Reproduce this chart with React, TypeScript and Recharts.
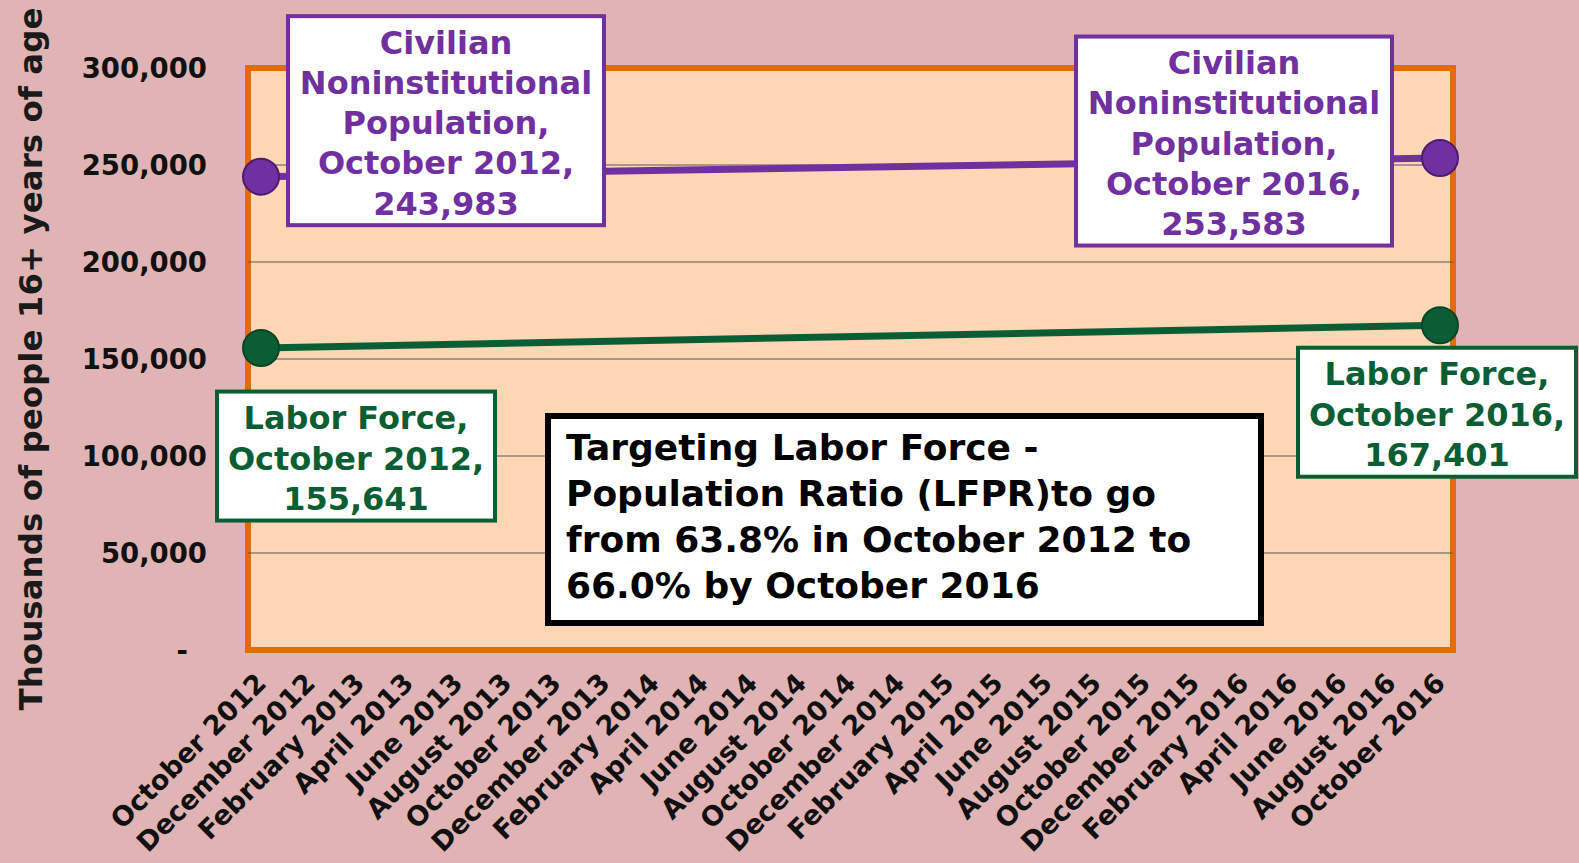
import React from 'react';
import { LineChart, Line, XAxis, YAxis, CartesianGrid, LabelList } from 'recharts';

const FONT = '"DejaVu Sans", Verdana, sans-serif';

// monthly categories, October 2012 .. October 2016
const months = [
  'October 2012', 'November 2012', 'December 2012',
  'January 2013', 'February 2013', 'March 2013', 'April 2013', 'May 2013', 'June 2013',
  'July 2013', 'August 2013', 'September 2013', 'October 2013', 'November 2013', 'December 2013',
  'January 2014', 'February 2014', 'March 2014', 'April 2014', 'May 2014', 'June 2014',
  'July 2014', 'August 2014', 'September 2014', 'October 2014', 'November 2014', 'December 2014',
  'January 2015', 'February 2015', 'March 2015', 'April 2015', 'May 2015', 'June 2015',
  'July 2015', 'August 2015', 'September 2015', 'October 2015', 'November 2015', 'December 2015',
  'January 2016', 'February 2016', 'March 2016', 'April 2016', 'May 2016', 'June 2016',
  'July 2016', 'August 2016', 'September 2016', 'October 2016',
];

// only the two end points are known
const pointMonths = ['October 2012', 'October 2016'];
const civilianValues = [243983, 253583];
const laborValues = [155641, 167401];

const yTicks = [0, 50000, 100000, 150000, 200000, 250000, 300000];
const gridValues = [50000, 100000, 150000, 200000, 250000];

const yTitle = 'Thousands of people 16+ years of age';
const noteLines = [
  'Targeting Labor Force -',
  'Population Ratio (LFPR)to go',
  'from 63.8% in October 2012 to',
  '66.0% by October 2016',
];

const data = months.map((m) => {
  const i = pointMonths.indexOf(m);
  return {
    month: m,
    civilian: i >= 0 ? civilianValues[i] : null,
    labor: i >= 0 ? laborValues[i] : null,
  };
});

const PURPLE = '#7030a0';
const GREEN = '#0b5e34';

const makeBox = (title: string[], values: number[], color: string, w: number, h: number, offsets: number[][]) =>
  (props: any) => {
    const { x, y, value } = props;
    if (value == null || x == null || y == null) return null;
    const idx = values.indexOf(value);
    const off = offsets[idx < 0 ? 0 : idx];
    const cx = x + off[0];
    const cy = y + off[1];
    const lines = [...title, pointMonths[idx] + ',', value.toLocaleString('en-US')];
    const lh = 40.3;
    const first = cy - ((lines.length - 1) * lh) / 2 + 2 + 11.5;
    return (
      <g>
        <rect x={cx - w / 2} y={cy - h / 2} width={w} height={h} fill="#ffffff" stroke={color} strokeWidth={4} />
        <text textAnchor="middle" fontFamily={FONT} fontWeight="bold" fontSize={32} fill={color}>
          {lines.map((l, i) => (
            <tspan key={i} x={cx} y={first + i * lh}>{l}</tspan>
          ))}
        </text>
      </g>
    );
  };

const civilianBox = makeBox(['Civilian', 'Noninstitutional', 'Population,'], civilianValues, PURPLE, 316, 209, [[185, -56], [-206, -17]]);
const laborBox = makeBox(['Labor Force,'], laborValues, GREEN, 278, 129, [[95, 108], [-3, 87]]);

const XTick = (props: any) => {
  const { x, y, payload } = props;
  return (
    <text x={x} y={y} transform={`rotate(-45, ${x}, ${y})`} textAnchor="end" dominantBaseline="central"
      fontFamily={FONT} fontWeight="bold" fontSize={27} fill="#111">
      {payload.value}
    </text>
  );
};

const renderYTitle = (props: any) => {
  const vb = props.viewBox || { y: 68, height: 582 };
  const cy = vb.y + vb.height / 2;
  return (
    <text x={31} y={cy} transform={`rotate(-90, 31, ${cy})`} textAnchor="middle" dominantBaseline="central"
      fontFamily={FONT} fontWeight="bold" fontSize={32.5} fill="#1a1a1a">
      {yTitle}
    </text>
  );
};

const App = () => {
  return (
    <div style={{ position: 'absolute', left: 0, top: 0, width: 1579, height: 863, background: '#e0b3b5', overflow: 'hidden' }}>
      {/* plot area background + orange frame */}
      <div style={{ position: 'absolute', left: 245, top: 65, width: 1211, height: 588, boxSizing: 'border-box', border: '6px solid #e36c0a', background: '#fcd6b5' }} />
      <div style={{ position: 'absolute', left: 0, top: 0 }}>
        <LineChart width={1579} height={863} data={data} margin={{ top: 68, right: 126, bottom: 0, left: 0 }}>
          <CartesianGrid vertical={false} horizontalValues={gridValues} stroke="#5e544c" strokeWidth={1} />
          <XAxis dataKey="month" interval={1} tick={<XTick />} tickSize={0} tickMargin={28} axisLine={false}
            height={213} padding={{ left: 13, right: 13 }} />
          <YAxis domain={[0, 300000]} ticks={yTicks} width={248} tickSize={0} tickMargin={41} axisLine={false}
            tickFormatter={(v: number) => (v === 0 ? '-\u00A0\u00A0' : v.toLocaleString('en-US'))}
            tick={{ fontFamily: FONT, fontWeight: 'bold', fontSize: 27.5, fill: '#111' }}
            label={{ value: yTitle, content: renderYTitle }} />
          <Line dataKey="civilian" stroke={PURPLE} strokeWidth={7} connectNulls isAnimationActive={false}
            dot={{ r: 18, fill: PURPLE, stroke: '#4a1d6e', strokeWidth: 2 }} activeDot={false}>
            <LabelList dataKey="civilian" content={civilianBox} />
          </Line>
          <Line dataKey="labor" stroke={GREEN} strokeWidth={7} connectNulls isAnimationActive={false}
            dot={{ r: 18, fill: GREEN, stroke: '#08452a', strokeWidth: 2 }} activeDot={false}>
            <LabelList dataKey="labor" content={laborBox} />
          </Line>
        </LineChart>
      </div>
      {/* text box */}
      <div style={{ position: 'absolute', left: 545, top: 413, width: 719, height: 213, boxSizing: 'border-box', border: '6px solid #000', background: '#fff', padding: '6px 0 0 15px', fontFamily: FONT, fontWeight: 'bold', fontSize: 36, lineHeight: '46px', color: '#000', whiteSpace: 'nowrap' }}>
        {noteLines.map((l, i) => (
          <div key={i}>{l}</div>
        ))}
      </div>
    </div>
  );
};

export default App;
